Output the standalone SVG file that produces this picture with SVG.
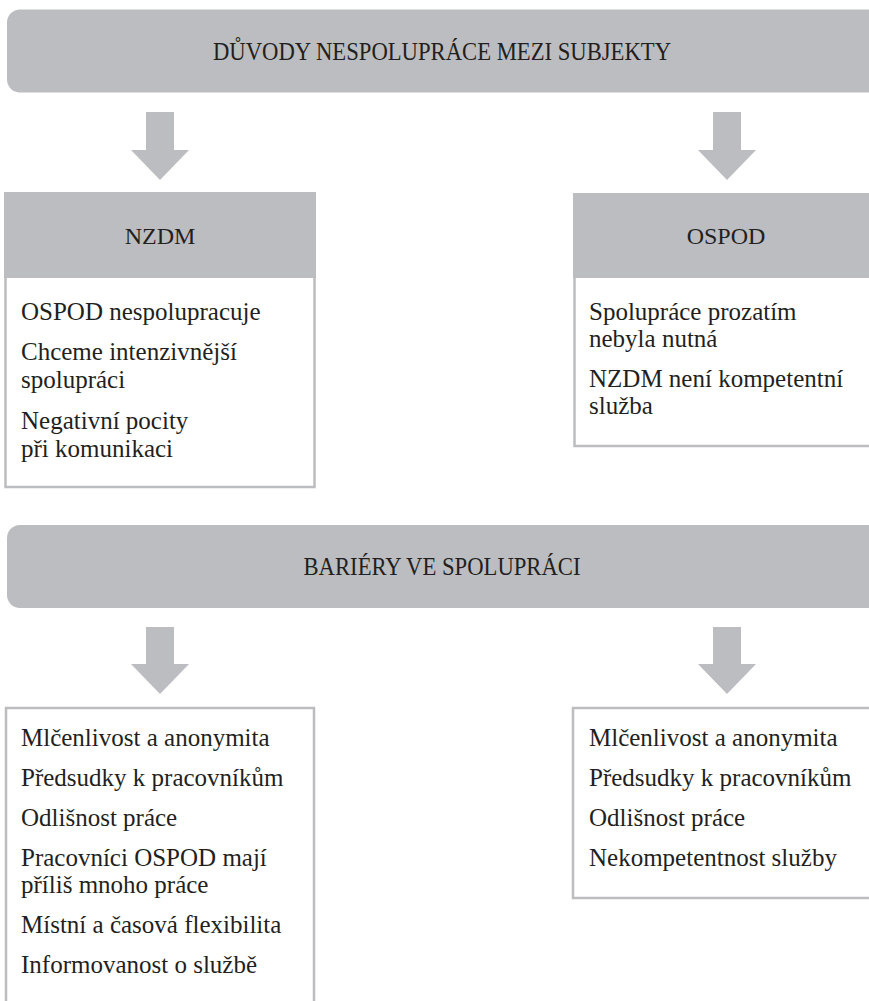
<svg xmlns="http://www.w3.org/2000/svg" width="869" height="1001" viewBox="0 0 869 1001">
<style>
.bg{fill:#ffffff}
.band{fill:#bcbdc0}
.box{fill:#ffffff;stroke:#bcbdc0;stroke-width:2.5}
.arrow{fill:#bcbdc0}
.t{font-family:"Liberation Serif","DejaVu Serif",serif;fill:#231f20}
.h{font-size:25px;text-anchor:middle}
.hd{font-size:24px;text-anchor:middle}
.b{font-size:25px}
</style>
<rect class="bg" x="0" y="0" width="869" height="1001"/>
<g id="connectors">
  <path class="arrow" d="M146,112 H174 V150 H189 L160,180 L131,150 H146 Z"/>
  <path class="arrow" d="M713,112 H741 V150 H756 L727,180 L698,150 H713 Z"/>
  <path class="arrow" d="M146,627 H174 V664 H189 L160,694 L131,664 H146 Z"/>
  <path class="arrow" d="M713,627 H741 V664 H756 L727,694 L698,664 H713 Z"/>
</g>
<g id="duvody">
  <rect class="band" x="7" y="9.5" width="880" height="83" rx="13"/>
  <text class="t h" x="442" y="60" textLength="458" lengthAdjust="spacingAndGlyphs">DŮVODY NESPOLUPRÁCE MEZI SUBJEKTY</text>
</g>
<g id="nzdm">
  <rect class="box" x="5.5" y="200" width="309" height="287"/>
  <rect class="band" x="4" y="192" width="312" height="86"/>
  <text class="t hd" x="160" y="244">NZDM</text>
  <text class="t b" x="21" y="320">OSPOD nespolupracuje</text>
  <text class="t b" x="21" y="360">Chceme intenzivnější</text>
  <text class="t b" x="21" y="388">spolupráci</text>
  <text class="t b" x="21" y="429">Negativní pocity</text>
  <text class="t b" x="21" y="457">při komunikaci</text>
</g>
<g id="ospod">
  <rect class="box" x="574.5" y="200" width="320" height="246"/>
  <rect class="band" x="573" y="193" width="310" height="85"/>
  <text class="t hd" x="726" y="244">OSPOD</text>
  <text class="t b" x="589" y="320">Spolupráce prozatím</text>
  <text class="t b" x="589" y="347">nebyla nutná</text>
  <text class="t b" x="589" y="387">NZDM není kompetentní</text>
  <text class="t b" x="589" y="414">služba</text>
</g>
<g id="bariery">
  <rect class="band" x="7" y="525" width="880" height="83" rx="13"/>
  <text class="t h" x="442" y="575" textLength="277" lengthAdjust="spacingAndGlyphs">BARIÉRY VE SPOLUPRÁCI</text>
</g>
<g id="bariery-nzdm">
  <rect class="box" x="6" y="708" width="308" height="320"/>
  <text class="t b" x="21" y="746">Mlčenlivost a anonymita</text>
  <text class="t b" x="21" y="786">Předsudky k pracovníkům</text>
  <text class="t b" x="21" y="826">Odlišnost práce</text>
  <text class="t b" x="21" y="866">Pracovníci OSPOD mají</text>
  <text class="t b" x="21" y="893">příliš mnoho práce</text>
  <text class="t b" x="21" y="933">Místní a časová flexibilita</text>
  <text class="t b" x="21" y="973">Informovanost o službě</text>
</g>
<g id="bariery-ospod">
  <rect class="box" x="573" y="708" width="320" height="190"/>
  <text class="t b" x="589" y="746">Mlčenlivost a anonymita</text>
  <text class="t b" x="589" y="786">Předsudky k pracovníkům</text>
  <text class="t b" x="589" y="826">Odlišnost práce</text>
  <text class="t b" x="589" y="866">Nekompetentnost služby</text>
</g>
</svg>
